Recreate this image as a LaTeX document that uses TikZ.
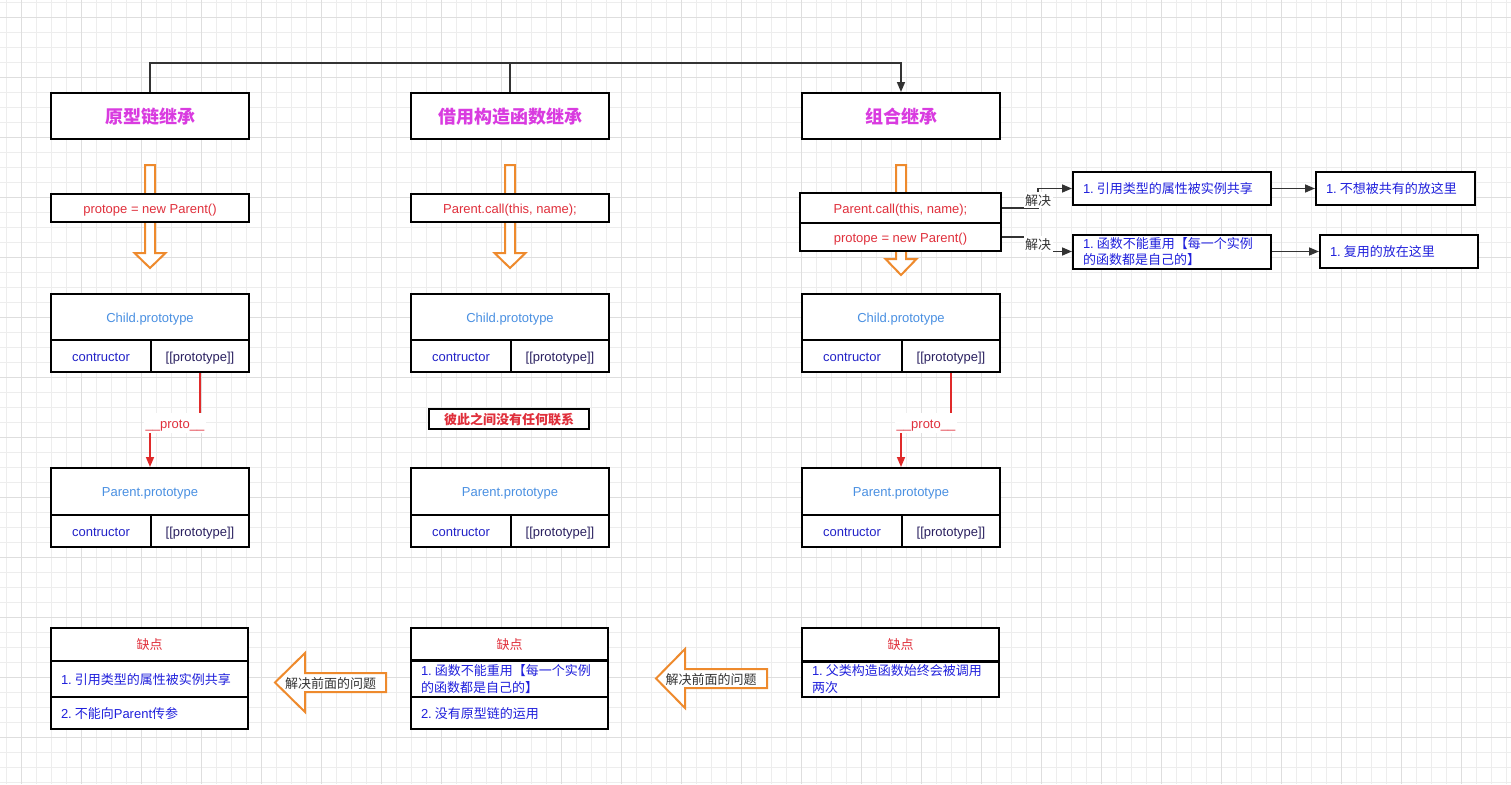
\documentclass[tikz,border=0pt]{standalone}
\usepackage{fontspec}
\setmainfont{Liberation Sans}
\newfontfamily\cjk{Noto Sans CJK SC}
\usetikzlibrary{arrows.meta}
\definecolor{magT}{HTML}{D93BE0}
\definecolor{redT}{HTML}{E0303C}
\definecolor{lblue}{HTML}{4A90E2}
\definecolor{ctor}{HTML}{2323C8}
\definecolor{protoC}{HTML}{2A2060}
\definecolor{blueI}{HTML}{2020DC}
\definecolor{orng}{HTML}{EE8A2D}
\definecolor{redL}{HTML}{E02A2A}
\definecolor{dk}{HTML}{333333}
\definecolor{gmin}{HTML}{EDEDED}
\definecolor{gmaj}{HTML}{DEDEDE}
\newcommand\fsA{\fontsize{13}{16.5}\selectfont}
\newcommand\fsT{\fontsize{18}{22}\selectfont\bfseries\cjk}
\newcommand\nb{\hspace{3pt}}
\begin{document}
\begin{tikzpicture}[x=1pt,y=-1pt,
  bx/.style={draw=black,line width=2pt,fill=white,inner sep=0pt,font=\fsA},
  sl/.style={text height=10.4pt,text depth=0pt},
  titlebox/.style={bx,minimum width=198,minimum height=46,font=\fsT,text=magT,text height=14pt,text depth=0pt},
  rowc/.style={bx,text width=177,align=left,inner xsep=10pt,inner ysep=0pt,text=blueI},
  hdr/.style={bx,sl,minimum width=198,minimum height=46,text=lblue},
  ctorcell/.style={bx,sl,minimum width=100,minimum height=32,text=ctor},
  protocell/.style={bx,sl,minimum width=98,minimum height=32,text=protoC},
  hol/.style={draw=orng,line width=2pt,fill=white,line join=miter},
  conn/.style={draw=dk,line width=1.6pt,-{Triangle[length=10pt,width=8pt]}},
  redlink/.style={draw=redL,line width=1.6pt,-{Triangle[length=10pt,width=8pt]}},
  lbl/.style={sl,fill=white,inner xsep=1.5pt,inner ysep=3pt,font=\fsA\cjk,text=dk},
  redlbl/.style={sl,fill=white,inner xsep=2pt,inner ysep=4.5pt,font=\fsA,text=redT},
  arrtxt/.style={sl,inner sep=0pt,font=\fsA\cjk,text=dk}]
\useasboundingbox (0,0) rectangle (1511,784);
\fill[white] (0,0) rectangle (1511,784);
% grid
\foreach \xx in {6,21,...,1506} \draw[gmin,line width=0.8pt] (\xx,0) -- (\xx,784);
\foreach \yy in {2,17,...,782} \draw[gmin,line width=0.8pt] (0,\yy) -- (1511,\yy);
\foreach \xx in {21,81,...,1461} \draw[gmaj,line width=0.9pt] (\xx,0) -- (\xx,784);
\foreach \yy in {17,77,...,737} \draw[gmaj,line width=0.9pt] (0,\yy) -- (1511,\yy);

% titles
\node[titlebox] (t1) at (150,116) {原型链继承};
\node[titlebox] (t2) at (510,116) {借用构造函数继承};
\node[titlebox] (t3) at (901,116) {组合继承};
\coordinate (tc) at (901,63);
\draw[conn] (t1.north) |- (tc) -- (t3.north);
\draw[dk,line width=1.6pt] (t2.north) -- (t2.north |- tc);

% hollow vertical arrows
\draw[hol,shift={(150,0)}] (-5,165) -- (5,165) -- (5,253) -- (15.5,253) -- (0,268) -- (-15.5,253) -- (-5,253) -- cycle;
\draw[hol,shift={(510,0)}] (-5,165) -- (5,165) -- (5,253) -- (15.5,253) -- (0,268) -- (-15.5,253) -- (-5,253) -- cycle;
\draw[hol,shift={(901,0)}] (-5,165) -- (5,165) -- (5,259) -- (15.5,259) -- (0,275) -- (-15.5,259) -- (-5,259) -- cycle;

% formula boxes
\node[bx,sl,minimum width=198,minimum height=28,text=redT] (p1) at (150,208) {protope = new Parent()};
\node[bx,sl,minimum width=198,minimum height=28,text=redT] (p2) at (510,208) {Parent.call(this, name);};
\node[bx,sl,minimum width=201,minimum height=30,text=redT] (c3a) at (900.5,208) {Parent.call(this, name);};
\node[bx,sl,minimum width=201,minimum height=28,text=redT] (c3b) at (900.5,237) {protope = new Parent()};

% right boxes
\node[rowc,sl,text width=178,minimum height=33] (r1) at (1172,188.5) {1.\nb{\cjk 引用类型的属性被实例共享}};
\node[rowc,text width=178,minimum height=34] (r2) at (1172,251.5) {1.\nb{\cjk 函数不能重用【每一个实例}\\{\cjk 的函数都是自己的】}};
\node[rowc,sl,text width=139,minimum height=33] (r3) at (1395.5,188.5) {1.\nb{\cjk 不想被共有的放这里}};
\node[rowc,sl,text width=138,minimum height=33] (r4) at (1399,251.5) {1.\nb{\cjk 复用的放在这里}};
\coordinate (k1) at (1038,200);
\coordinate (k2) at (1038,244);
\draw[conn] (c3a.east) -| (k1) |- (r1.west);
\draw[conn] (c3b.east) -| (k2) |- (r2.west);
\node[lbl] (l1) at (k1) {解决};
\node[lbl] (l2) at (k2) {解决};
\draw[conn] (r1.east) -- (r3.west);
\draw[conn] (r2.east) -- (r4.west |- r2.east);

% column 1 tables
\node[hdr] (ch1) at (150,317) {Child.prototype};
\node[ctorcell] (cc1) at (101,356) {contructor};
\node[protocell] (cp1) at (200,356) {[[prototype]]};
\node[hdr,minimum height=47] (ph1) at (150,491.5) {Parent.prototype};
\node[ctorcell] (pc1) at (101,531) {contructor};
\node[protocell] (pp1) at (200,531) {[[prototype]]};
\draw[redlink] (cp1.south) -- (cp1.south |- 0,423) -| node[redlbl,pos=0.25] {\_\_proto\_\_} (ph1.north);

% column 2 tables
\node[hdr] (ch2) at (510,317) {Child.prototype};
\node[ctorcell] (cc2) at (461,356) {contructor};
\node[protocell] (cp2) at (560,356) {[[prototype]]};
\node[bx,sl,minimum width=160,minimum height=20,text=redT,font=\fsA\bfseries\cjk] (nl) at (509,419) {彼此之间没有任何联系};
\node[hdr,minimum height=47] (ph2) at (510,491.5) {Parent.prototype};
\node[ctorcell] (pc2) at (461,531) {contructor};
\node[protocell] (pp2) at (560,531) {[[prototype]]};

% column 3 tables
\node[hdr] (ch3) at (901,317) {Child.prototype};
\node[ctorcell] (cc3) at (852,356) {contructor};
\node[protocell] (cp3) at (951,356) {[[prototype]]};
\node[hdr,minimum height=47] (ph3) at (901,491.5) {Parent.prototype};
\node[ctorcell] (pc3) at (852,531) {contructor};
\node[protocell] (pp3) at (951,531) {[[prototype]]};
\draw[redlink] (cp3.south) -- (cp3.south |- 0,423) -| node[redlbl,pos=0.25] {\_\_proto\_\_} (ph3.north);

% bottom boxes
\node[bx,sl,minimum width=197,minimum height=33,text=redT,font=\fsA\cjk] (d1h) at (149.5,644.5) {缺点};
\node[rowc,sl,minimum height=36] (d1a) at (149.5,679) {1.\nb{\cjk 引用类型的属性被实例共享}};
\node[rowc,sl,minimum height=32] (d1b) at (149.5,713) {2.\nb{\cjk 不能向}Parent{\cjk 传参}};

\node[bx,sl,minimum width=197,minimum height=32,text=redT,font=\fsA\cjk] (d2h) at (509.5,644) {缺点};
\node[rowc,minimum height=37] (d2a) at (509.5,679) {1.\nb{\cjk 函数不能重用【每一个实例}\\{\cjk 的函数都是自己的】}};
\node[rowc,sl,minimum height=32] (d2b) at (509.5,713) {2.\nb{\cjk 没有原型链的运用}};

\node[bx,sl,minimum width=197,minimum height=33,text=redT,font=\fsA\cjk] (d3h) at (900.5,644.5) {缺点};
\node[rowc,minimum height=35] (d3a) at (900.5,679) {1.\nb{\cjk 父类构造函数始终会被调用}\\{\cjk 两次}};

% hollow left arrows
\draw[hol] (386,673) -- (305,673) -- (305,653) -- (275,682.5) -- (305,712) -- (305,692) -- (386,692) -- cycle;
\node[arrtxt] (a1) at (330.5,683) {解决前面的问题};
\draw[hol] (767,669) -- (685,669) -- (685,649) -- (656,678.5) -- (685,708) -- (685,688) -- (767,688) -- cycle;
\node[arrtxt] (a2) at (711,679) {解决前面的问题};
\end{tikzpicture}
\end{document}
